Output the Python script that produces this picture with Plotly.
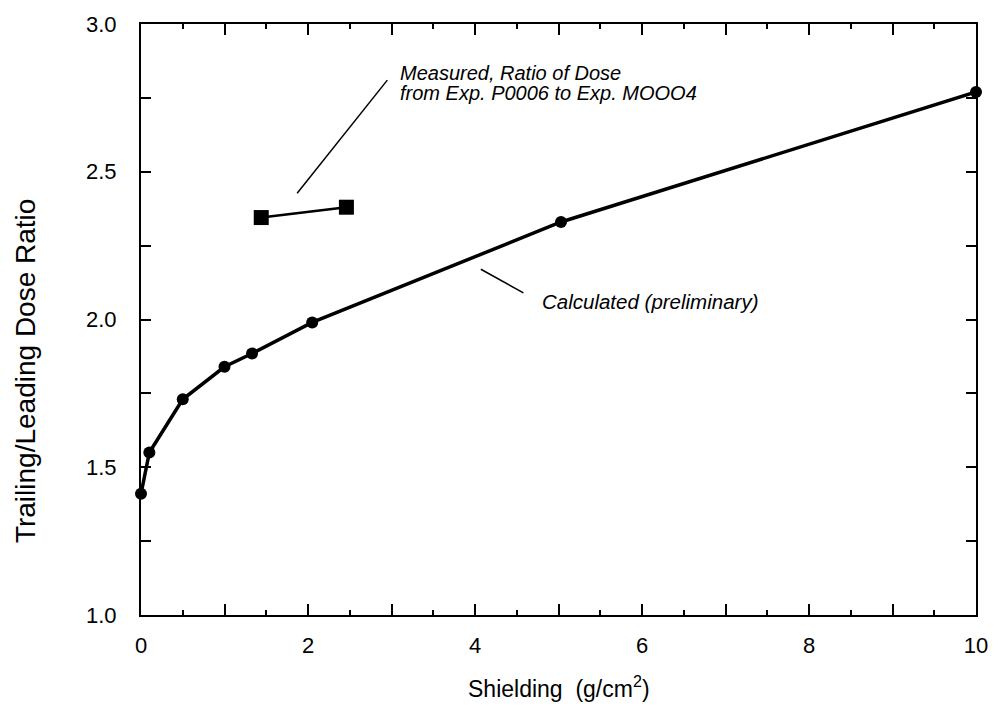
import plotly.graph_objects as go

# Calculated (preliminary) curve
calc_x = [0.0, 0.1, 0.5, 1.0, 1.33, 2.05, 5.03, 10.0]
calc_y = [1.41, 1.55, 1.73, 1.84, 1.885, 1.99, 2.33, 2.77]

# Measured ratio of dose
meas_x = [1.44, 2.46]
meas_y = [2.345, 2.38]

# Axis ticks
x_tickvals = [0, 1, 2, 3, 4, 5, 6, 7, 8, 9, 10]
x_ticktext = ["0", "", "2", "", "4", "", "6", "", "8", "", "10"]
y_tickvals = [1.0, 1.25, 1.5, 1.75, 2.0, 2.25, 2.5, 2.75, 3.0]
y_ticktext = ["1.0", "", "1.5", "", "2.0", "", "2.5", "", "3.0"]

# Leader lines (data coords)
meas_leader_x = [1.87, 2.95]
meas_leader_y = [2.427, 2.81]
calc_leader_x = [4.07, 4.58]
calc_leader_y = [2.17, 2.09]

FONT = "Liberation Sans, Arial, Helvetica, sans-serif"

fig = go.Figure()
fig.add_trace(go.Scatter(
    x=calc_x, y=calc_y, mode="lines+markers",
    line=dict(color="black", width=3.5),
    marker=dict(symbol="circle", size=12, color="black"),
    cliponaxis=False, showlegend=False,
))
fig.add_trace(go.Scatter(
    x=meas_x, y=meas_y, mode="lines+markers",
    line=dict(color="black", width=2.5),
    marker=dict(symbol="square", size=15, color="black"),
    cliponaxis=False, showlegend=False,
))

fig.add_shape(type="line", xref="x", yref="y",
              x0=meas_leader_x[0], y0=meas_leader_y[0],
              x1=meas_leader_x[1], y1=meas_leader_y[1],
              line=dict(color="black", width=1.5))
fig.add_shape(type="line", xref="x", yref="y",
              x0=calc_leader_x[0], y0=calc_leader_y[0],
              x1=calc_leader_x[1], y1=calc_leader_y[1],
              line=dict(color="black", width=1.5))

ann_font = dict(family=FONT, size=20, color="black", style="italic")
fig.add_annotation(x=3.08, y=2.835, xref="x", yref="y", text="Measured, Ratio of Dose",
                   showarrow=False, xanchor="left", yanchor="middle", font=ann_font)
fig.add_annotation(x=3.08, y=2.768, xref="x", yref="y", text="from Exp. P0006 to Exp. MOOO4",
                   showarrow=False, xanchor="left", yanchor="middle", font=ann_font)
fig.add_annotation(x=4.78, y=2.062, xref="x", yref="y", text="Calculated (preliminary)",
                   showarrow=False, xanchor="left", yanchor="middle",
                   font=dict(family=FONT, size=20.5, color="black", style="italic"))

# Axis titles as annotations
fig.add_annotation(x=0.5, y=-0.121, xref="paper", yref="paper",
                   text="Shielding  (g/cm<sup>2</sup>)", showarrow=False,
                   xanchor="center", yanchor="middle",
                   font=dict(family=FONT, size=23, color="black"))
fig.add_annotation(x=-0.138, y=0.414, xref="paper", yref="paper",
                   text="Trailing/Leading Dose Ratio", showarrow=False, textangle=-90,
                   xanchor="center", yanchor="middle",
                   font=dict(family=FONT, size=28, color="black"))

axis_common = dict(
    showline=True, linecolor="black", linewidth=2, mirror="ticks",
    ticks="inside", tickcolor="black", tickwidth=1.5,
    showgrid=False, zeroline=False,
    tickfont=dict(family=FONT, size=22, color="black"),
)

fig.update_xaxes(range=[0, 10], tickmode="array", tickvals=x_tickvals, ticktext=x_ticktext,
                 ticklen=11, ticklabelstandoff=10,
                 minor=dict(dtick=0.5, ticklen=5, tickcolor="black", tickwidth=1.5, ticks="inside"),
                 **axis_common)
fig.update_yaxes(range=[1, 3], tickmode="array", tickvals=y_tickvals, ticktext=y_ticktext,
                 ticklen=10, ticklabelstandoff=18, **axis_common)

fig.update_layout(
    width=1000, height=711,
    margin=dict(l=141, r=14, t=22, b=96),
    plot_bgcolor="white", paper_bgcolor="white",
    showlegend=False,
)

fig.write_html("out.html")
